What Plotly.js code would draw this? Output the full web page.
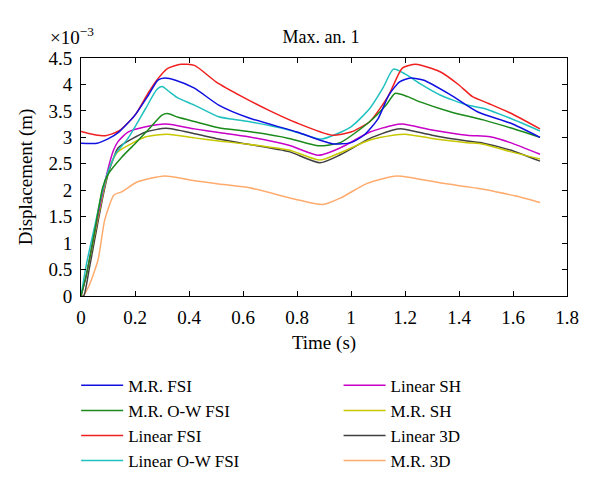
<!DOCTYPE html>
<html>
<head>
<meta charset="utf-8">
<script src="https://cdn.plot.ly/plotly-3.0.1.min.js"></script>
<style>
  html, body { margin: 0; padding: 0; background: #fff; }
  #myPlot { width: 600px; height: 495px; }
</style>
</head>
<body>
<div id="myPlot"></div>
<script>
// displacement values in units of 1e-3 m
const tMrFsi = [0, 0.06, 0.1, 0.14, 0.2, 0.25, 0.285, 0.31, 0.35, 0.42, 0.51, 0.62, 0.8, 0.93, 1.0, 1.05, 1.1, 1.14, 1.18, 1.22, 1.27, 1.37, 1.47, 1.59, 1.7];
const mrFsi = [2.89, 2.89, 2.97, 3.1, 3.42, 3.8, 4.08, 4.12, 4.08, 3.93, 3.61, 3.37, 3.1, 2.88, 2.9, 3.05, 3.35, 3.8, 4.05, 4.12, 4.08, 3.8, 3.48, 3.27, 3.0];

const tMrOwFsi = [0, 0.02, 0.05, 0.08, 0.1, 0.15, 0.2, 0.25, 0.3, 0.32, 0.36, 0.42, 0.51, 0.62, 0.77, 0.88, 0.96, 1.07, 1.13, 1.163, 1.21, 1.256, 1.37, 1.49, 1.59, 1.7];
const mrOwFsi = [0, 0.4, 1.2, 2.05, 2.3, 2.62, 2.88, 3.15, 3.42, 3.45, 3.38, 3.3, 3.18, 3.11, 2.98, 2.84, 2.9, 3.3, 3.61, 3.83, 3.77, 3.67, 3.48, 3.33, 3.18, 3.0];

const tLinFsi = [0, 0.05, 0.09, 0.14, 0.2, 0.25, 0.285, 0.32, 0.37, 0.42, 0.5, 0.6, 0.7, 0.8, 0.93, 1.0, 1.07, 1.14, 1.19, 1.24, 1.33, 1.4, 1.45, 1.51, 1.59, 1.7];
const linFsi = [3.11, 3.05, 3.03, 3.12, 3.42, 3.85, 4.11, 4.3, 4.38, 4.36, 4.05, 3.76, 3.5, 3.27, 3.04, 3.1, 3.3, 3.8, 4.31, 4.38, 4.24, 3.99, 3.77, 3.64, 3.46, 3.16];

const tLinOwFsi = [0, 0.02, 0.05, 0.08, 0.1, 0.13, 0.174, 0.24, 0.28, 0.3, 0.33, 0.36, 0.42, 0.51, 0.62, 0.77, 0.89, 1.0, 1.07, 1.12, 1.157, 1.2, 1.26, 1.33, 1.43, 1.49, 1.59, 1.7];
const linOwFsi = [0, 0.6, 1.3, 2.0, 2.35, 2.7, 2.98, 3.55, 3.9, 3.96, 3.85, 3.74, 3.61, 3.39, 3.3, 3.14, 2.97, 3.2, 3.55, 3.95, 4.29, 4.2, 4.0, 3.8, 3.61, 3.55, 3.36, 3.12];

const tLinSh = [0, 0.02, 0.05, 0.08, 0.1, 0.12, 0.137, 0.174, 0.24, 0.315, 0.42, 0.51, 0.62, 0.77, 0.88, 0.96, 1.07, 1.156, 1.19, 1.3, 1.43, 1.515, 1.59, 1.7];
const linSh = [0, 0.4, 1.2, 1.95, 2.4, 2.75, 2.92, 3.1, 3.2, 3.25, 3.16, 3.09, 3.01, 2.85, 2.66, 2.8, 3.1, 3.23, 3.25, 3.14, 3.04, 3.01, 2.9, 2.68];

const tMrSh = [0, 0.02, 0.05, 0.08, 0.1, 0.12, 0.137, 0.24, 0.32, 0.42, 0.51, 0.62, 0.77, 0.885, 0.96, 1.07, 1.156, 1.2, 1.3, 1.43, 1.49, 1.59, 1.7];
const mrSh = [0, 0.4, 1.15, 1.9, 2.35, 2.6, 2.73, 3.01, 3.06, 2.99, 2.93, 2.87, 2.76, 2.57, 2.71, 2.95, 3.04, 3.06, 2.98, 2.9, 2.87, 2.73, 2.59];

const tLin3d = [0, 0.01, 0.03, 0.05, 0.08, 0.1, 0.12, 0.137, 0.24, 0.315, 0.42, 0.51, 0.62, 0.77, 0.885, 0.96, 1.07, 1.156, 1.19, 1.3, 1.43, 1.49, 1.59, 1.7];
const lin3d = [0, 0, 0.5, 1.05, 1.85, 2.3, 2.6, 2.8, 3.1, 3.17, 3.07, 2.97, 2.87, 2.73, 2.52, 2.67, 2.98, 3.14, 3.16, 3.04, 2.93, 2.89, 2.76, 2.55];

const tMr3d = [0, 0.007, 0.03, 0.063, 0.088, 0.122, 0.15, 0.21, 0.31, 0.42, 0.51, 0.62, 0.81, 0.895, 0.96, 1.06, 1.17, 1.34, 1.49, 1.61, 1.7];
const mr3d = [0, 0, 0.2, 0.68, 1.44, 1.91, 1.97, 2.16, 2.27, 2.18, 2.12, 2.05, 1.81, 1.73, 1.85, 2.13, 2.27, 2.13, 2.02, 1.89, 1.77];

const font = "Liberation Serif, Times New Roman, serif";

function trace(x, y, name, color, legend) {
  return {
    x: x, y: y, name: name, type: "scatter", mode: "lines",
    line: { color: color, width: 1.5, shape: "spline", smoothing: 0.6 },
    legend: legend,
  };
}

const data = [
  trace(tMr3d, mr3d, "M.R. 3D", "#ffab6e", "legend2"),
  trace(tLin3d, lin3d, "Linear 3D", "#404040", "legend2"),
  trace(tMrSh, mrSh, "M.R. SH", "#c8c800", "legend2"),
  trace(tLinSh, linSh, "Linear SH", "#c800c8", "legend2"),
  trace(tLinOwFsi, linOwFsi, "Linear O-W FSI", "#1fc0c0", "legend"),
  trace(tLinFsi, linFsi, "Linear FSI", "#f02020", "legend"),
  trace(tMrOwFsi, mrOwFsi, "M.R. O-W FSI", "#1a8a1a", "legend"),
  trace(tMrFsi, mrFsi, "M.R. FSI", "#1010e0", "legend"),
];

const axisStyle = {
  showline: true, linecolor: "#000", linewidth: 1, mirror: "ticks",
  ticks: "inside", ticklen: 5, tickcolor: "#000", ticklabelstandoff: 4,
  showgrid: false, zeroline: false, automargin: false,
  tickfont: { family: font, size: 19, color: "#000" },
};

// plot box kept at 81..567 x 58..296 px; the lower paper area holds the legends
const legendStyle = {
  y: 0.283, xanchor: "left", yanchor: "top",
  traceorder: "reversed", bgcolor: "rgba(0,0,0,0)",
  itemwidth: 42,
  font: { family: font, size: 17 },
};

const layout = {
  width: 600, height: 495,
  margin: { l: 81, r: 33, t: 58, b: 5 },
  paper_bgcolor: "#fff", plot_bgcolor: "#fff",
  font: { family: font, size: 18, color: "#000" },
  title: { text: "Max. an. 1", x: 0.535, xanchor: "center", y: 0.925, yanchor: "middle", font: { family: font, size: 18 } },
  xaxis: Object.assign({}, axisStyle, {
    range: [0, 1.8], dtick: 0.2,
    title: { text: "Time (s)", font: { family: font, size: 19 }, standoff: 8 },
  }),
  yaxis: Object.assign({}, axisStyle, {
    domain: [0.449, 1],
    range: [0, 4.5], dtick: 0.5,
    title: { text: "Displacement (m)", font: { family: font, size: 19 }, standoff: 10 },
  }),
  legend: Object.assign({ x: -0.01 }, legendStyle),
  legend2: Object.assign({ x: 0.53 }, legendStyle),
  annotations: [{
    text: "×10<sup>−3</sup>", xref: "paper", yref: "paper",
    x: -0.067, y: 1.051, xanchor: "left", yanchor: "middle",
    showarrow: false, font: { family: font, size: 19 },
  }],
};

Plotly.newPlot("myPlot", data, layout, { displayModeBar: false, staticPlot: true });
</script>
</body>
</html>
